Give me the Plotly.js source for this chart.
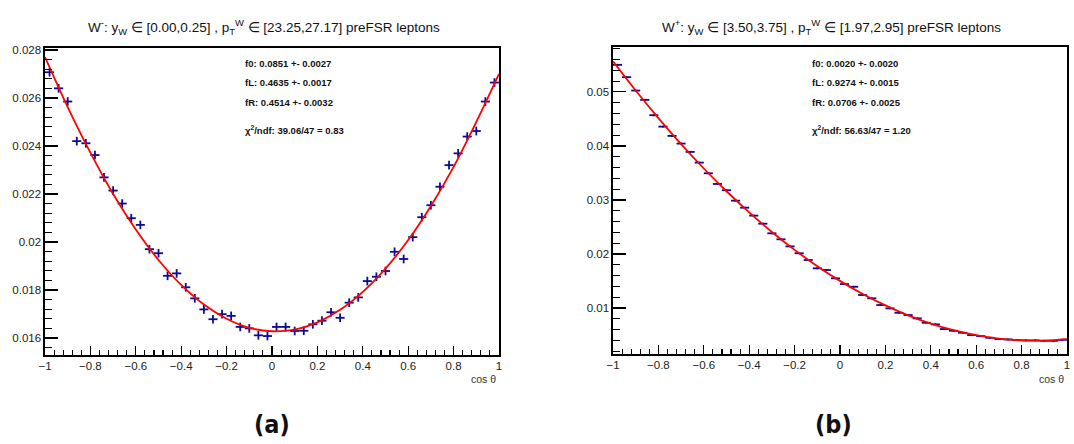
<!DOCTYPE html>
<html>
<head>
<meta charset="utf-8">
<script src="https://cdn.plot.ly/plotly-3.0.1.min.js"></script>
<style>
  html, body { margin: 0; padding: 0; background: #ffffff; }
  #chart { width: 1074px; height: 444px; }
</style>
</head>
<body>
<div id="chart"></div>
<script>
// ---------------- data ----------------
const cosTheta = [-0.98,-0.94,-0.90,-0.86,-0.82,-0.78,-0.74,-0.70,-0.66,-0.62,
                  -0.58,-0.54,-0.50,-0.46,-0.42,-0.38,-0.34,-0.30,-0.26,-0.22,
                  -0.18,-0.14,-0.10,-0.06,-0.02, 0.02, 0.06, 0.10, 0.14, 0.18,
                   0.22, 0.26, 0.30, 0.34, 0.38, 0.42, 0.46, 0.50, 0.54, 0.58,
                   0.62, 0.66, 0.70, 0.74, 0.78, 0.82, 0.86, 0.90, 0.94, 0.98];
const binHalfWidth = 0.02;

// (a) W-  y_W in [0.00,0.25], pT in [23.25,27.17]
const wMinusValues = [0.02707,0.02640,0.02585,0.02420,0.02411,0.02362,0.02269,0.02214,0.02160,0.02099,
                      0.02071,0.01970,0.01953,0.01859,0.01869,0.01811,0.01765,0.01719,0.01678,0.01699,
                      0.01692,0.01646,0.01640,0.01611,0.01608,0.01646,0.01646,0.01629,0.01630,0.01657,
                      0.01672,0.01707,0.01684,0.01747,0.01769,0.01837,0.01855,0.01879,0.01959,0.01929,
                      0.02020,0.02103,0.02153,0.02230,0.02320,0.02369,0.02439,0.02462,0.02585,0.02664];
const wMinusError = 0.00018;

// (b) W+  y_W in [3.50,3.75], pT in [1.97,2.95]
const wPlusValues = [0.05500,0.05272,0.05024,0.04852,0.04568,0.04357,0.04185,0.04043,0.03889,0.03691,
                     0.03494,0.03296,0.03180,0.02987,0.02857,0.02710,0.02561,0.02383,0.02272,0.02141,
                     0.02014,0.01889,0.01735,0.01704,0.01550,0.01444,0.01394,0.01241,0.01180,0.01056,
                     0.00994,0.00913,0.00870,0.00809,0.00728,0.00698,0.00611,0.00580,0.00543,0.00500,
                     0.00481,0.00450,0.00426,0.00420,0.00407,0.00402,0.00402,0.00394,0.00394,0.00413];
const wPlusError = 0.00018;

// fit curves
const fitX = [-1.0,-0.9,-0.8,-0.7,-0.6,-0.5,-0.4,-0.3,-0.2,-0.1,0.0,
               0.1, 0.2, 0.3, 0.4, 0.5, 0.6, 0.7, 0.8, 0.9, 1.0];
const wMinusFit = [0.02770,0.02562,0.02372,0.02200,0.02052,0.01925,0.01821,0.01739,0.01680,0.01642,0.01628,
                   0.01635,0.01665,0.01717,0.01792,0.01889,0.02008,0.02150,0.02313,0.02500,0.02700];
const wPlusFit = [0.05564,0.05024,0.04514,0.04033,0.03582,0.03161,0.02770,0.02408,0.02077,0.01775,0.01503,
                  0.01261,0.01049,0.00866,0.00714,0.00591,0.00498,0.00434,0.00401,0.00398,0.00424];

// tick labels
const xTickVals = [-1,-0.8,-0.6,-0.4,-0.2,0,0.2,0.4,0.6,0.8,1];
const xTickText = ['\u22121','\u22120.8','\u22120.6','\u22120.4','\u22120.2','0','0.2','0.4','0.6','0.8','1'];
const yTickValsA = [0.016,0.018,0.020,0.022,0.024,0.026,0.028];
const yTickTextA = ['0.016','0.018','0.02','0.022','0.024','0.026','0.028'];
const yTickValsB = [0.01,0.02,0.03,0.04,0.05];
const yTickTextB = ['0.01','0.02','0.03','0.04','0.05'];

// texts
const titleA = 'W<sup>-</sup>: y<sub>W</sub> \u2208 [0.00,0.25] , p<sub>T</sub><sup>W</sup> \u2208 [23.25,27.17] preFSR leptons';
const titleB = 'W<sup>+</sup>: y<sub>W</sub> \u2208 [3.50,3.75] , p<sub>T</sub><sup>W</sup> \u2208 [1.97,2.95] preFSR leptons';
const statsA = ['f0: 0.0851 +- 0.0027','fL: 0.4635 +- 0.0017','fR: 0.4514 +- 0.0032','\u03c7<sup>2</sup>/ndf: 39.06/47 = 0.83'];
const statsB = ['f0: 0.0020 +- 0.0020','fL: 0.9274 +- 0.0015','fR: 0.0706 +- 0.0025','\u03c7<sup>2</sup>/ndf: 56.63/47 = 1.20'];
const xLabel = 'cos \u03b8';
const captions = ['(a)','(b)'];

// ---------------- layout helpers ----------------
const W = 1074, H = 444;
const px = v => v / W;
const py = v => 1 - v / H;
const FONT = 'Liberation Sans, Arial, Helvetica, sans-serif';
const pointColor = '#0a0a96';

function pointsTrace(y, err, xa, ya) {
  return {
    type: 'scatter', mode: 'markers', x: cosTheta, y: y, xaxis: xa, yaxis: ya,
    marker: { size: 1, color: pointColor, opacity: 0 },
    error_x: { type: 'constant', value: binHalfWidth, width: 0, thickness: 1.8, color: pointColor },
    error_y: { type: 'constant', value: err, width: 0, thickness: 1.8, color: pointColor },
    hoverinfo: 'skip', showlegend: false
  };
}
function fitTrace(y, xa, ya) {
  return {
    type: 'scatter', mode: 'lines', x: fitX, y: y, xaxis: xa, yaxis: ya,
    line: { color: '#ff0000', width: 1.8, shape: 'spline', smoothing: 1 },
    hoverinfo: 'skip', showlegend: false
  };
}

const data = [
  pointsTrace(wMinusValues, wMinusError, 'x', 'y'),
  fitTrace(wMinusFit, 'x', 'y'),
  pointsTrace(wPlusValues, wPlusError, 'x2', 'y2'),
  fitTrace(wPlusFit, 'x2', 'y2')
];

function xAxis(domain, anchor) {
  return {
    domain: domain, anchor: anchor, range: [-1, 1],
    showgrid: false, zeroline: false,
    showline: true, linecolor: '#000', linewidth: 1.6, mirror: true,
    ticks: 'inside', ticklen: 9, tickwidth: 1.2, tickcolor: '#000',
    tickmode: 'array', tickvals: xTickVals, ticktext: xTickText,
    tickfont: { family: FONT, size: 11.5, color: '#222' },
    minor: { tickmode: 'linear', tick0: -1, dtick: 0.04, ticks: 'inside', ticklen: 5, tickwidth: 1.1, tickcolor: '#000', showgrid: false },
    fixedrange: true
  };
}
function yAxis(domain, anchor, range, vals, text, minorTick0, minorDtick) {
  return {
    domain: domain, anchor: anchor, range: range,
    showgrid: false, zeroline: false,
    showline: true, linecolor: '#000', linewidth: 1.6, mirror: true,
    ticks: 'inside', ticklen: 13, tickwidth: 1.2, tickcolor: '#000',
    tickmode: 'array', tickvals: vals, ticktext: text,
    tickfont: { family: FONT, size: 11.5, color: '#222' },
    minor: { tickmode: 'linear', tick0: minorTick0, dtick: minorDtick, ticks: 'inside', ticklen: 7, tickwidth: 1.1, tickcolor: '#000', showgrid: false },
    fixedrange: true
  };
}

const annotations = [];
function addText(text, x, y, opts) {
  annotations.push(Object.assign({
    text: text, xref: 'paper', yref: 'paper', x: px(x), y: py(y),
    showarrow: false, xanchor: 'left', yanchor: 'middle',
    font: { family: FONT, size: 10, color: '#111' }
  }, opts || {}));
}
// titles
addText(titleA, 264, 27, { xanchor: 'center', font: { family: FONT, size: 13.5, color: '#111' } });
addText(titleB, 831, 27, { xanchor: 'center', font: { family: FONT, size: 13.5, color: '#111' } });
// stats boxes
const statY = [63, 83, 103, 130];
statsA.forEach((t, i) => addText('<b>' + t + '</b>', 243, statY[i], { font: { family: FONT, size: 9.5, color: '#111' } }));
statsB.forEach((t, i) => addText('<b>' + t + '</b>', 810, statY[i], { font: { family: FONT, size: 9.5, color: '#111' } }));
// axis labels
addText(xLabel, 498, 379, { xanchor: 'right', font: { family: FONT, size: 10.5, color: '#333' } });
addText(xLabel, 1066, 379, { xanchor: 'right', font: { family: FONT, size: 10.5, color: '#333' } });
// captions
const capFont = { family: 'Liberation Sans Narrow, DejaVu Sans Condensed, DejaVu Sans, sans-serif', size: 25, color: '#111' };
addText('<b>' + captions[0] + '</b>', 272, 424, { xanchor: 'center', font: capFont });
addText('<b>' + captions[1] + '</b>', 833, 424, { xanchor: 'center', font: capFont });

const layout = {
  width: W, height: H,
  margin: { l: 0, r: 0, t: 0, b: 0 },
  paper_bgcolor: '#ffffff', plot_bgcolor: '#ffffff',
  showlegend: false,
  xaxis: xAxis([px(45), px(499)], 'y'),
  yaxis: yAxis([py(355), py(48)], 'x', [0.01529, 0.02808], yTickValsA, yTickTextA, 0.0152, 0.0004),
  xaxis2: xAxis([px(613), px(1067)], 'y2'),
  yaxis2: yAxis([py(354), py(47)], 'x2', [0.0015, 0.0583], yTickValsB, yTickTextB, 0.002, 0.002),
  annotations: annotations
};

Plotly.newPlot('chart', data, layout, { displayModeBar: false, staticPlot: true });
</script>
</body>
</html>
